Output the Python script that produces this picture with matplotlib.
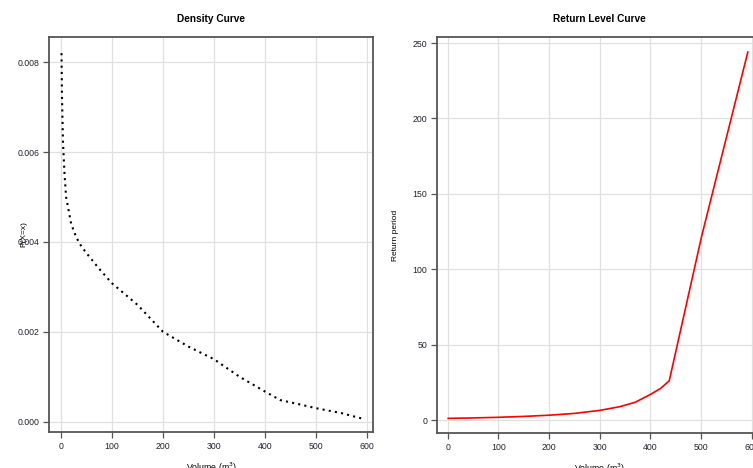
import matplotlib
matplotlib.use("Agg")
import matplotlib.pyplot as plt

plt.rcParams['font.family'] = ['Liberation Sans', 'DejaVu Sans']

# density curve
dens_x = [1, 2, 4, 7, 10, 15, 20, 30, 40, 50, 75, 100, 150, 200, 250, 300,
          350, 400, 430, 470, 500, 550, 590]
dens_y = [0.0082, 0.0072, 0.0062, 0.0055, 0.0050, 0.0047, 0.0044, 0.0041,
          0.0039, 0.00375, 0.0034, 0.00308, 0.0026, 0.0020, 0.00167, 0.00139,
          0.00100, 0.00067, 0.00048, 0.00038, 0.00030, 0.00019, 0.00007]

# return level curve
ret_x = [1, 50, 100, 150, 200, 250, 300, 340, 370, 400, 420, 437, 501, 592]
ret_y = [1.1, 1.4, 1.8, 2.4, 3.2, 4.4, 6.4, 8.9, 11.8, 17, 21, 26, 122, 244]

x_ticks = [0, 100, 200, 300, 400, 500, 600]
dens_ticks = [0.000, 0.002, 0.004, 0.006, 0.008]
ret_ticks = [0, 50, 100, 150, 200, 250]

fig = plt.figure(figsize=(7.53, 4.68), dpi=100)
ax1 = fig.add_axes([49/753, 36/468, 324/753, 395/468])
ax2 = fig.add_axes([437/753, 35/468, 324/753, 396/468])

def style(ax):
    ax.grid(True, color='#e0e0e0', linewidth=0.9)
    ax.set_axisbelow(True)
    for s in ax.spines.values():
        s.set_color('#555555')
        s.set_linewidth(1.3)
    ax.tick_params(direction='out', length=4, width=0.9, color='#555555',
                   labelsize=6.3, labelcolor='#222233', pad=3)

ax1.plot(dens_x, dens_y, color='black', linestyle=(0, (1, 2)), linewidth=1.5)
ax1.set_xlim(-23.5, 611.8)
ax1.set_ylim(-0.00023, 0.00856)
ax1.set_xticks(x_ticks)
ax1.set_yticks(dens_ticks)
ax1.set_yticklabels(['%.3f' % v for v in dens_ticks])
ax1.set_title('Density Curve', fontsize=7.3, fontweight='bold', pad=11)
ax1.set_xlabel('Volume (m$^3$)', fontsize=6.3, labelpad=7)
ax1.set_ylabel('P(X=x)', fontsize=6, labelpad=-7)
style(ax1)

ax2.plot(ret_x, ret_y, color='red', linewidth=1.2)
ax2.set_xlim(-21.1, 618)
ax2.set_ylim(-8.6, 254)
ax2.set_xticks(x_ticks)
ax2.set_yticks(ret_ticks)
ax2.set_title('Return Level Curve', fontsize=7.3, fontweight='bold', pad=11)
ax2.set_xlabel('Volume (m$^3$)', fontsize=6.3, labelpad=7)
ax2.set_ylabel('Return period', fontsize=6, labelpad=10)
style(ax2)

fig.savefig('out.png', dpi=100)
